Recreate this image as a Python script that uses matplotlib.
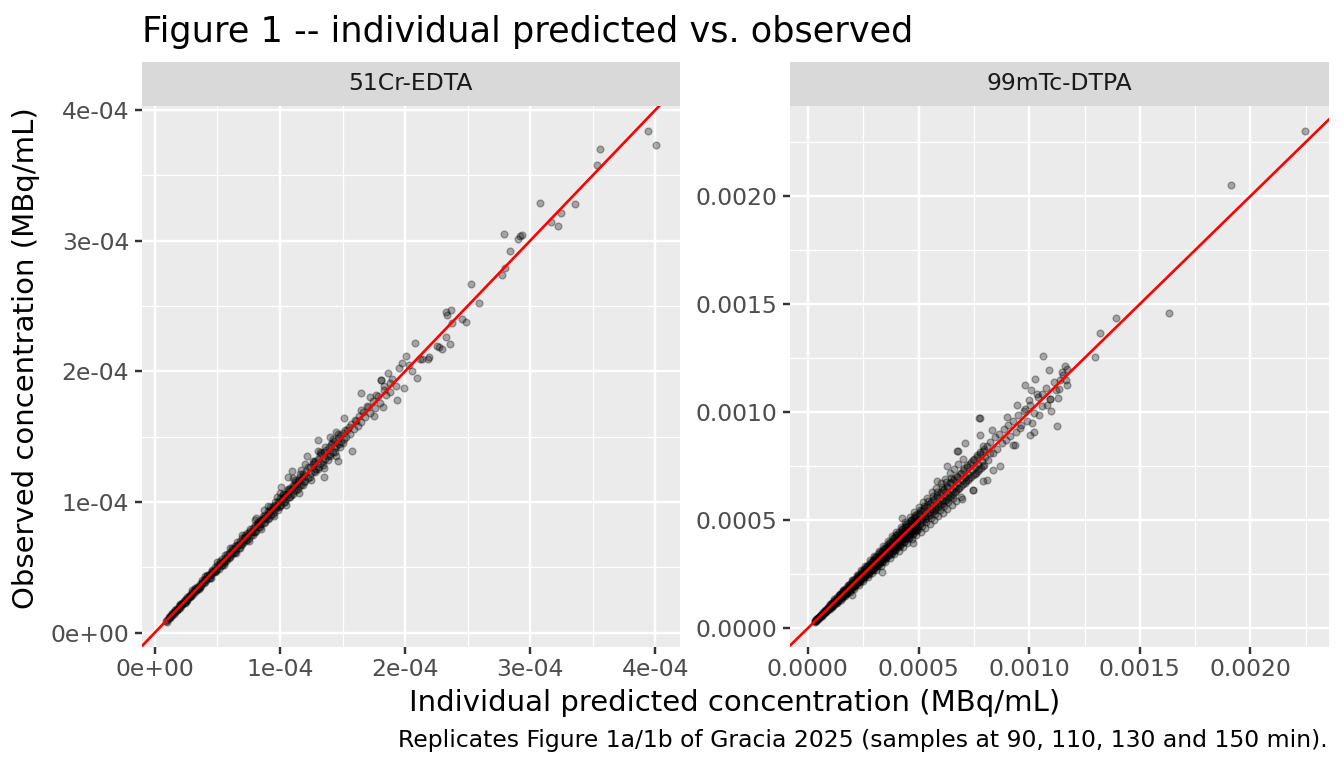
import numpy as np
import matplotlib
matplotlib.use("Agg")
import matplotlib.pyplot as plt
from matplotlib.ticker import FixedLocator, FixedFormatter

plt.rcParams['font.family'] = ['DejaVu Sans']

# ---------------- data (concentrations in units of 1e-4 MBq/mL) ----------------
# 51Cr-EDTA: (individual predicted, observed)
cr_dense_a = [
    (0.10,0.08),(0.10,0.10),(0.11,0.12),(0.12,0.11),(0.13,0.13),(0.14,0.15),(0.15,0.14),(0.16,0.16),
    (0.17,0.18),(0.18,0.17),(0.19,0.19),(0.20,0.21),(0.21,0.20),(0.22,0.22),(0.23,0.24),(0.24,0.23),
    (0.25,0.26),(0.26,0.25),(0.27,0.27),(0.28,0.29),(0.29,0.28),(0.30,0.31),(0.31,0.30),(0.32,0.33),
    (0.33,0.32),(0.34,0.35),(0.35,0.34),(0.36,0.37),(0.37,0.36),(0.38,0.39),(0.39,0.38),(0.40,0.41),
    (0.41,0.40),(0.42,0.43),(0.43,0.42),(0.44,0.45),(0.45,0.44),(0.46,0.47),(0.47,0.46),(0.48,0.50),
    (0.49,0.47),(0.50,0.52),(0.51,0.49),(0.52,0.53),(0.53,0.51),(0.54,0.56),(0.55,0.53),(0.56,0.57),
    (0.57,0.55),(0.58,0.60),(0.59,0.57),(0.60,0.62),(0.61,0.59),(0.62,0.63),(0.63,0.61),(0.64,0.66),
    (0.65,0.63),(0.66,0.67),(0.67,0.65),(0.68,0.70),(0.69,0.67),(0.70,0.72),(0.71,0.69),(0.72,0.73),
    (0.73,0.71),(0.74,0.76),(0.75,0.72),(0.76,0.78),(0.77,0.75),(0.78,0.80),(0.79,0.77),(0.80,0.82),
    (0.81,0.78),(0.82,0.84),(0.83,0.81),(0.84,0.86),(0.85,0.83),(0.86,0.88),(0.87,0.84),(0.88,0.90),
    (0.89,0.87),(0.90,0.93),(0.91,0.88),(0.92,0.94),(0.93,0.90),(0.94,0.97),(0.95,0.92),(0.96,0.98),
    (0.97,0.95),(0.98,1.01),(0.99,0.96),(1.00,1.03),(1.01,0.98),(1.02,1.05),(1.03,1.00),(1.04,1.06),
    (1.05,1.02),(1.06,1.09),(1.07,1.04),(1.08,1.11),(1.09,1.05),(1.10,1.13),(1.11,1.08),(1.12,1.15),
    (1.13,1.09),(1.14,1.17),(1.15,1.12),(1.16,1.19),(1.17,1.13),(1.18,1.21),(1.19,1.15),
]
cr_dense_b = [
    (0.09,0.09),(0.115,0.11),(0.135,0.14),(0.155,0.16),(0.175,0.17),(0.195,0.20),(0.215,0.22),
    (0.235,0.23),(0.255,0.25),(0.275,0.28),(0.295,0.30),(0.315,0.32),(0.335,0.33),(0.355,0.36),
    (0.375,0.38),(0.395,0.40),(0.415,0.42),(0.435,0.44),(0.455,0.46),(0.475,0.47),(0.495,0.50),
    (0.515,0.52),(0.535,0.54),(0.555,0.55),(0.575,0.58),(0.595,0.60),(0.615,0.61),(0.635,0.64),
    (0.655,0.66),(0.675,0.68),(0.695,0.69),(0.715,0.72),(0.735,0.74),(0.755,0.76),(0.775,0.77),
    (0.795,0.80),(0.815,0.82),(0.835,0.83),(0.855,0.86),(0.875,0.88),(0.895,0.89),(0.915,0.92),
    (0.935,0.94),(0.955,0.96),(0.975,0.97),(0.995,1.00),(1.015,1.02),(1.035,1.04),(1.055,1.06),
    (1.075,1.08),(1.095,1.10),(1.115,1.12),(1.135,1.14),(1.155,1.16),(1.175,1.18),(1.195,1.20),
]
cr_dense_c = [
    (0.12,0.125),(0.14,0.135),(0.16,0.17),(0.18,0.175),(0.20,0.19),(0.22,0.23),(0.24,0.25),(0.26,0.27),
    (0.28,0.27),(0.30,0.29),(0.32,0.34),(0.34,0.33),(0.36,0.35),(0.38,0.40),(0.40,0.39),(0.42,0.44),
    (0.44,0.42),(0.46,0.48),(0.48,0.46),(0.50,0.49),(0.52,0.55),(0.54,0.52),(0.56,0.59),(0.58,0.56),
    (0.60,0.58),(0.62,0.65),(0.64,0.62),(0.66,0.69),(0.68,0.65),(0.70,0.68),(0.72,0.75),(0.74,0.71),
    (0.76,0.79),(0.78,0.75),(0.80,0.77),(0.82,0.85),(0.84,0.81),(0.86,0.89),(0.88,0.85),(0.90,0.87),
    (0.92,0.96),(0.94,0.91),(0.96,1.00),(0.98,0.94),(1.00,0.97),(1.02,1.06),(1.04,1.00),(1.06,1.10),
    (1.08,1.04),(1.10,1.06),(1.12,1.17),(1.14,1.10),(1.16,1.21),(1.18,1.13),(1.20,1.16),(1.22,1.27),
    (1.24,1.19),(1.26,1.31),(1.28,1.23),(1.30,1.25),(1.32,1.38),(1.34,1.28),(1.36,1.42),(1.38,1.32),
    (1.40,1.35),(1.42,1.48),(1.44,1.38),(1.46,1.52),(1.48,1.42),(1.50,1.45),
]
cr_dense_d = [
    (0.20,0.215),(0.25,0.235),(0.30,0.325),(0.35,0.33),(0.40,0.43),(0.45,0.42),(0.50,0.54),(0.55,0.515),
    (0.60,0.645),(0.65,0.61),(0.70,0.75),(0.75,0.70),(0.80,0.86),(0.85,0.795),(0.90,0.965),(0.95,0.89),
    (1.00,1.07),(1.05,0.98),(1.10,1.18),(1.15,1.07),(1.20,1.29),(1.25,1.17),(1.30,1.39),(1.35,1.26),
    (1.40,1.50),(1.45,1.35),
]
cr_mid = [
    (1.21,1.24),(1.22,1.18),(1.24,1.27),(1.25,1.22),(1.26,1.29),(1.27,1.24),(1.28,1.31),(1.29,1.25),
    (1.30,1.33),(1.31,1.27),(1.32,1.36),(1.33,1.30),(1.34,1.31),(1.35,1.38),(1.36,1.33),(1.37,1.40),
    (1.38,1.35),(1.39,1.42),(1.40,1.37),(1.41,1.44),(1.42,1.38),(1.43,1.47),(1.44,1.41),(1.45,1.43),
    (1.46,1.49),(1.47,1.44),(1.48,1.51),(1.49,1.46),(1.50,1.53),(1.51,1.48),(1.52,1.55),(1.53,1.50),
    (1.55,1.57),(1.56,1.52),(1.57,1.60),(1.59,1.56),(1.60,1.63),(1.62,1.58),(1.63,1.66),(1.65,1.61),
    (1.66,1.69),(1.68,1.65),(1.70,1.73),(1.72,1.68),(1.74,1.77),(1.76,1.72),(1.78,1.81),(1.80,1.76),
    (1.83,1.86),(1.85,1.82),(1.88,1.91),
    (1.511,1.642),(1.306,1.476),(1.578,1.386),(1.463,1.315),(1.213,1.353),(1.351,1.187),(1.099,1.233),
    (1.750,1.655),(1.825,1.727),(1.644,1.706),(1.697,1.731),(1.604,1.616),(1.538,1.553),(1.444,1.532),
    (1.418,1.450),(1.325,1.374),(1.271,1.309),(1.165,1.246),(1.064,1.194),(1.006,1.117),(0.974,1.041),
    (0.872,0.939),(0.806,0.875),
]
cr_high = [
    (3.937,3.842),(4.001,3.732),(3.554,3.704),(3.533,3.579),(3.081,3.285),(3.360,3.279),(3.248,3.213),
    (3.166,3.146),(3.219,3.110),(2.788,3.054),(2.934,3.044),(2.921,3.036),(2.902,3.016),(2.841,2.921),
    (2.801,2.788),(2.775,2.737),(2.530,2.668),(2.588,2.520),(2.370,2.466),(2.325,2.456),(2.336,2.427),
    (2.376,2.371),(2.458,2.397),(2.490,2.376),(2.330,2.264),(2.357,2.207),(2.251,2.192),(2.272,2.184),
    (2.296,2.167),(2.080,2.220),(2.189,2.110),(2.181,2.097),(2.136,2.097),(2.115,2.097),(2.009,2.115),
    (1.977,2.064),(1.950,2.026),(2.030,2.051),(2.057,2.000),(2.091,1.949),(1.990,1.869),(1.937,1.783),
    (1.644,1.837),(1.718,1.800),(1.862,1.988),(1.809,1.934),(1.897,1.944),(1.830,1.885),(1.923,1.885),
    (1.764,1.816),(1.876,1.842),(1.804,1.936),
]

# 99mTc-DTPA: (individual predicted, observed)
tc_dense_a = [
    (0.30,0.32),(0.31,0.28),(0.40,0.42),(0.45,0.44),(0.50,0.53),(0.55,0.52),(0.60,0.62),(0.65,0.63),
    (0.70,0.73),(0.75,0.72),(0.80,0.83),(0.85,0.82),(0.90,0.94),(0.95,0.91),(1.00,1.04),(1.05,1.01),
    (1.10,1.15),(1.15,1.10),(1.20,1.25),(1.25,1.19),(1.30,1.36),(1.35,1.29),(1.40,1.46),(1.45,1.39),
    (1.50,1.57),(1.55,1.48),(1.60,1.67),(1.65,1.58),(1.70,1.78),(1.75,1.67),(1.80,1.88),(1.85,1.77),
    (1.90,1.99),(1.95,1.86),(2.00,2.09),(2.05,1.95),(2.10,2.20),(2.15,2.05),(2.20,2.30),(2.25,2.14),
    (2.30,2.41),(2.35,2.24),(2.40,2.51),(2.45,2.33),(2.50,2.62),(2.55,2.43),(2.60,2.72),(2.65,2.52),
    (2.70,2.83),(2.75,2.61),(2.80,2.93),(2.85,2.71),(2.90,3.04),(2.95,2.80),(3.00,3.15),(3.05,2.90),
    (3.10,3.25),(3.15,2.99),(3.20,3.36),(3.25,3.08),(3.30,3.46),(3.35,3.18),(3.40,3.57),(3.45,3.27),
    (3.50,3.68),(3.55,3.36),(3.60,3.78),(3.65,3.46),(3.70,3.89),(3.75,3.55),(3.80,3.99),(3.85,3.64),
    (3.90,4.10),(3.95,3.74),(4.00,4.21),(4.05,3.83),(4.10,4.31),(4.15,3.93),(4.20,4.42),(4.25,4.02),
    (4.30,4.52),(4.35,4.11),(4.40,4.63),(4.45,4.21),(4.50,4.74),(4.55,4.30),(4.60,4.84),(4.65,4.39),
    (4.70,4.95),(4.75,4.49),(4.80,5.05),(4.85,4.58),(4.90,5.16),(4.95,4.67),(5.00,5.27),
]
tc_dense_b = [
    (0.33,0.34),(0.42,0.41),(0.52,0.51),(0.62,0.61),(0.72,0.71),(0.82,0.81),(0.92,0.92),(1.02,1.02),
    (1.12,1.12),(1.22,1.22),(1.32,1.31),(1.42,1.42),(1.52,1.52),(1.62,1.61),(1.72,1.72),(1.82,1.82),
    (1.92,1.91),(2.02,2.02),(2.12,2.12),(2.22,2.21),(2.32,2.32),(2.42,2.42),(2.52,2.51),(2.62,2.62),
    (2.72,2.72),(2.82,2.81),(2.92,2.92),(3.02,3.02),(3.12,3.11),(3.22,3.22),(3.32,3.32),(3.42,3.41),
    (3.52,3.52),(3.62,3.62),(3.72,3.71),(3.82,3.82),(3.92,3.92),(4.02,4.01),(4.12,4.12),(4.22,4.22),
    (4.32,4.31),(4.42,4.42),(4.52,4.52),(4.62,4.61),(4.72,4.72),(4.82,4.82),(4.92,4.91),
]
tc_dense_c = [
    (0.38,0.41),(0.47,0.43),(0.58,0.63),(0.63,0.57),(0.77,0.83),(0.81,0.74),(0.93,1.00),(0.98,0.90),
    (1.07,1.16),(1.13,1.04),(1.18,1.27),(1.27,1.17),(1.33,1.44),(1.38,1.26),(1.47,1.58),(1.53,1.41),
    (1.58,1.70),(1.67,1.54),(1.73,1.86),(1.78,1.63),(1.87,2.01),(1.93,1.78),(1.98,2.13),(2.07,1.90),
    (2.13,2.29),(2.18,2.00),(2.27,2.44),(2.33,2.14),(2.38,2.55),(2.47,2.28),(2.53,2.72),(2.58,2.37),
    (2.67,2.87),(2.73,2.51),(2.78,2.99),(2.87,2.64),(2.93,3.15),(2.98,2.74),(3.07,3.30),(3.13,2.88),
    (3.18,3.42),(3.27,3.01),(3.33,3.58),(3.38,3.11),(3.47,3.73),(3.53,3.25),(3.58,3.86),(3.67,3.38),
    (3.73,4.01),(3.78,3.48),(3.87,4.16),(3.93,3.61),(3.98,4.29),(4.07,3.74),(4.13,4.44),(4.18,3.85),
    (4.27,4.59),(4.33,3.98),(4.38,4.72),(4.47,4.11),(4.53,4.87),(4.58,4.21),(4.67,5.02),(4.73,4.35),
    (4.78,5.15),(4.87,4.48),(4.93,5.30),(4.98,4.58),
]
tc_dense_d = [
    (0.36,0.37),(0.44,0.46),(0.54,0.54),(0.64,0.66),(0.74,0.75),(0.84,0.86),(0.94,0.95),(1.04,1.07),
    (1.14,1.15),(1.24,1.27),(1.34,1.35),(1.44,1.48),(1.54,1.55),(1.64,1.68),(1.74,1.75),(1.84,1.89),
    (1.94,1.95),(2.04,2.09),(2.14,2.15),(2.24,2.30),(2.34,2.35),(2.44,2.50),(2.54,2.55),(2.64,2.71),
    (2.74,2.75),(2.84,2.92),(2.94,2.95),(3.04,3.12),(3.14,3.15),(3.24,3.33),(3.34,3.35),(3.44,3.53),
    (3.54,3.55),(3.64,3.74),(3.74,3.75),(3.84,3.94),(3.94,3.95),(4.04,4.15),(4.14,4.15),(4.24,4.36),
    (4.34,4.35),(4.44,4.56),(4.54,4.55),(4.64,4.77),(4.74,4.75),(4.84,4.97),(4.94,4.95),
    (0.37,0.35),(0.47,0.45),(0.57,0.55),(0.67,0.64),(0.77,0.74),(0.87,0.83),(0.97,0.93),(1.07,1.02),
    (1.17,1.12),(1.27,1.21),(1.37,1.31),(1.47,1.40),(1.57,1.50),(1.67,1.59),(1.77,1.69),(1.87,1.78),
    (1.97,1.88),(2.07,1.97),(2.17,2.07),(2.27,2.16),(2.37,2.26),(2.47,2.35),(2.57,2.45),(2.67,2.54),
    (2.77,2.64),(2.87,2.73),(2.97,2.83),(3.07,2.92),(3.17,3.02),(3.27,3.11),(3.37,3.21),(3.47,3.30),
    (3.57,3.40),(3.67,3.49),(3.77,3.59),(3.87,3.68),(3.97,3.78),(4.07,3.87),(4.17,3.97),(4.27,4.06),
    (4.37,4.16),(4.47,4.25),(4.57,4.35),(4.67,4.44),(4.77,4.54),(4.87,4.63),(4.97,4.73),
]
tc_dense_e = [
    (1.0,1.10),(1.1,0.96),(1.2,1.34),(1.3,1.15),(1.4,1.55),(1.5,1.31),(1.6,1.78),(1.7,1.49),
    (1.8,2.00),(1.9,1.66),(2.0,2.24),(2.1,1.83),(2.2,2.44),(2.3,2.00),(2.4,2.70),(2.5,2.19),
    (2.6,2.90),(2.7,2.35),(2.8,3.14),(2.9,2.54),(3.0,3.33),(3.1,2.71),(3.2,3.58),(3.3,2.88),
    (3.4,3.80),(3.5,3.06),(3.6,4.02),(3.7,3.24),(3.8,4.26),(3.9,3.41),(4.0,4.46),(4.1,3.58),
    (4.2,4.70),(4.3,3.77),(4.4,4.92),(4.5,3.94),(4.6,5.14),(4.7,4.12),(4.8,5.38),(4.9,4.29),
    (5.0,5.60),(5.1,4.47),(5.2,5.82),(5.3,4.64),(5.4,6.04),(5.5,4.83),(5.6,6.28),(5.7,5.00),
    (5.8,6.48),(5.9,5.18),(6.0,6.72),(6.1,5.35),(6.2,6.92),(6.3,5.53),(6.4,7.16),(6.5,5.70),
    (6.6,7.38),(6.7,5.88),(6.8,7.60),(6.9,6.06),(7.0,7.84),
    (1.05,1.13),(1.15,1.06),(1.25,1.35),(1.35,1.24),(1.45,1.57),(1.55,1.43),(1.65,1.78),(1.75,1.61),
    (1.85,2.00),(1.95,1.79),(2.05,2.21),(2.15,1.98),(2.25,2.43),(2.35,2.16),(2.45,2.65),(2.55,2.35),
    (2.65,2.86),(2.75,2.53),(2.85,3.08),(2.95,2.71),(3.05,3.29),(3.15,2.90),(3.25,3.51),(3.35,3.08),
    (3.45,3.73),(3.55,3.27),(3.65,3.94),(3.75,3.45),(3.85,4.16),(3.95,3.63),(4.05,4.37),(4.15,3.82),
    (4.25,4.59),(4.35,4.00),(4.45,4.81),(4.55,4.19),(4.65,5.02),(4.75,4.37),(4.85,5.24),(4.95,4.55),
    (5.05,5.45),(5.15,4.74),(5.25,5.67),(5.35,4.92),(5.45,5.89),(5.55,5.11),(5.65,6.10),(5.75,5.29),
    (5.85,6.32),(5.95,5.47),(6.05,6.53),(6.15,5.66),(6.25,6.75),(6.35,5.84),(6.45,6.97),(6.55,6.03),
]
tc_mid = [
    (5.05,4.80),(5.10,5.40),(5.15,5.05),(5.20,4.95),(5.25,5.55),(5.30,5.20),(5.35,5.10),(5.40,5.70),
    (5.45,5.35),(5.50,5.25),(5.55,5.85),(5.60,5.50),(5.65,5.40),(5.70,6.00),(5.75,5.65),(5.80,5.50),
    (5.85,6.15),(5.90,5.80),(5.95,5.65),(6.00,6.30),(6.05,5.95),(6.10,5.80),(6.15,6.45),(6.20,6.10),
    (6.25,5.95),(6.30,6.60),(6.35,6.25),(6.40,6.05),(6.45,6.75),(6.50,6.40),(6.55,6.20),(6.60,6.90),
    (6.65,6.55),(6.70,6.35),(6.75,7.05),(6.80,6.70),(6.85,6.50),(6.90,7.20),(6.95,6.85),(7.00,6.65),
    (7.05,7.40),(7.10,7.00),(7.15,6.80),(7.20,7.55),(7.25,7.15),(7.30,6.95),(7.35,7.70),(7.40,7.30),
    (7.45,7.10),(7.50,7.85),(7.55,7.45),(7.60,7.20),(7.65,8.00),(7.70,7.60),(7.75,7.35),(7.80,8.15),
    (7.85,7.75),(7.90,7.50),(7.95,8.30),(8.00,7.90),
    (5.08,5.30),(5.13,4.90),(5.22,5.45),(5.28,5.05),(5.37,5.62),(5.42,5.18),(5.52,5.75),(5.58,5.33),
    (5.67,5.93),(5.73,5.46),(5.82,6.08),(5.88,5.60),(5.97,6.22),(6.03,5.75),(6.12,6.38),(6.18,5.88),
    (6.27,6.55),(6.33,6.02),(6.42,6.70),(6.48,6.15),(6.57,6.85),(6.63,6.30),(6.72,7.00),(6.78,6.45),
    (6.87,7.15),(6.93,6.58),(7.02,7.30),(7.08,6.72),(7.17,7.48),(7.23,6.86),(7.32,7.62),(7.38,7.00),
    (7.47,7.78),(7.53,7.14),(7.62,7.92),(7.68,7.28),(7.77,8.08),(7.83,7.42),(7.92,8.22),(7.98,7.56),
    (8.10,8.45),(8.15,7.80),(8.25,8.60),(8.35,8.10),(8.45,8.85),(8.55,8.30),(8.65,9.00),(8.75,8.55),
    (8.85,9.20),(8.95,8.70),(9.05,9.40),(9.15,8.90),(9.25,9.60),(9.40,9.10),(9.50,9.85),(9.65,9.40),
    (9.75,10.05),(9.90,9.60),(10.05,10.35),(10.20,9.95),(10.40,10.70),(10.60,10.30),(10.75,11.10),
    (10.95,10.60),(11.10,11.40),(11.35,11.05),(11.50,11.85),(11.65,11.50),
]
tc_high = [
    (22.44,23.03),(19.12,20.53),(16.31,14.61),(13.91,14.34),(13.21,13.68),(12.97,12.55),
    (10.61,12.59),(10.90,11.93),(11.62,12.13),(11.70,11.98),(11.54,11.74),(11.39,11.48),(11.72,11.27),
    (10.25,11.55),(9.81,11.27),(10.08,11.02),(10.34,10.82),(10.56,10.85),(11.20,11.02),(11.29,10.66),
    (10.94,10.62),(10.79,10.31),(10.97,10.04),(11.24,9.38),(10.44,9.86),(9.99,10.58),(9.43,10.31),
    (9.81,10.15),(10.11,9.50),(10.04,8.96),(10.22,9.10),(7.74,9.75),(8.98,9.78),(9.58,9.27),
    (9.35,8.46),(8.68,7.49),(8.30,9.19),(7.78,8.96),(7.93,8.42),(7.10,8.58),(6.79,8.19),(7.47,6.41),
    (7.90,6.83),(8.38,7.34),(8.23,8.11),(7.78,9.74),(6.72,8.19),(6.27,7.49),(7.47,6.38),(6.95,5.98),
    (5.82,6.79),(4.24,5.10),(3.33,2.62),(1.98,1.54),(4.76,3.94),(8.08,6.87),(9.28,8.50),
]

panel_names = ["51Cr-EDTA", "99mTc-DTPA"]
title = "Figure 1 -- individual predicted vs. observed"
x_label = "Individual predicted concentration (MBq/mL)"
y_label = "Observed concentration (MBq/mL)"
caption = "Replicates Figure 1a/1b of Gracia 2025 (samples at 90, 110, 130 and 150 min)."

cr_ticks = [0.0, 1e-4, 2e-4, 3e-4, 4e-4]
cr_tick_labels = ["0e+00", "1e-04", "2e-04", "3e-04", "4e-04"]
cr_minor = [0.5e-4, 1.5e-4, 2.5e-4, 3.5e-4]
tc_ticks = [0.0, 0.0005, 0.0010, 0.0015, 0.0020]
tc_tick_labels = ["0.0000", "0.0005", "0.0010", "0.0015", "0.0020"]
tc_minor = [0.00025, 0.00075, 0.00125, 0.00175, 0.00225]

UNIT = 1e-4

def to_xy(*groups):
    arr = np.array([p for g in groups for p in g], dtype=float) * UNIT
    return arr[:, 0], arr[:, 1]

panels = [
    (panel_names[0], to_xy(cr_dense_a, cr_dense_b, cr_dense_c, cr_dense_d, cr_mid, cr_high),
     cr_ticks, cr_tick_labels, cr_minor),
    (panel_names[1], to_xy(tc_dense_a, tc_dense_b, tc_dense_c, tc_dense_d, tc_dense_e,
                           tc_mid, tc_high),
     tc_ticks, tc_tick_labels, tc_minor),
]

# ---------------- layout ----------------
W, H = 1344, 768
fig = plt.figure(figsize=(W / 100, H / 100), dpi=100)
fig.patch.set_facecolor("white")

def fx(px):
    return px / W

def fy(py):
    return 1 - py / H

panel_x = [(141.7, 680.0), (790.0, 1329.0)]
p_top, p_bot, s_top = 106.0, 646.7, 62.0

TICK_FS = 16.9
for (name, (xs, ys), ticks, labels, minor), (l, r) in zip(panels, panel_x):
    ax = fig.add_axes([fx(l), fy(p_bot), (r - l) / W, (p_bot - p_top) / H])
    ax.set_facecolor("#EBEBEB")
    for sp in ax.spines.values():
        sp.set_visible(False)
    ax.set_axisbelow(True)

    for axis in (ax.xaxis, ax.yaxis):
        axis.set_major_locator(FixedLocator(ticks))
        axis.set_major_formatter(FixedFormatter(labels))
        axis.set_minor_locator(FixedLocator(minor))
    ax.grid(which="major", color="white", linewidth=1.75)
    ax.grid(which="minor", color="white", linewidth=0.9)
    ax.tick_params(which="minor", length=0)
    ax.tick_params(which="major", length=5, width=1.75, color="#333333",
                   labelsize=TICK_FS, labelcolor="#4D4D4D")
    ax.tick_params(axis="x", pad=3.2)
    ax.tick_params(axis="y", pad=4)

    ax.scatter(xs, ys, s=24, c="black", alpha=0.3, edgecolors="black",
               linewidths=1.0, zorder=2)
    ax.axline((0, 0), (UNIT, UNIT), color="red", linewidth=1.9, zorder=3)

    # ggplot-style 5% expansion
    for vals, setter in ((xs, ax.set_xlim), (ys, ax.set_ylim)):
        lo, hi = vals.min(), vals.max()
        pad = 0.05 * (hi - lo)
        setter(lo - pad, hi + pad)

    # facet strip
    sax = fig.add_axes([fx(l), fy(p_top), (r - l) / W, (p_top - s_top) / H])
    sax.set_facecolor("#D9D9D9")
    sax.set_xticks([])
    sax.set_yticks([])
    for sp in sax.spines.values():
        sp.set_visible(False)
    sax.text(0.5, 0.5, name, ha="center", va="center", fontsize=TICK_FS,
             color="#1A1A1A", transform=sax.transAxes)

fig.text(fx(142), fy(41.7), title, fontsize=25.3, color="black",
         ha="left", va="baseline")
fig.text(fx(735), fy(710.7), x_label, fontsize=21, color="black",
         ha="center", va="baseline")
fig.text(fx(26), fy(358), y_label, fontsize=21, color="black",
         ha="center", va="center", rotation=90)
fig.text(fx(1328), fy(746.7), caption, fontsize=TICK_FS, color="black",
         ha="right", va="baseline")

fig.savefig("out.png", dpi=100, facecolor="white")
